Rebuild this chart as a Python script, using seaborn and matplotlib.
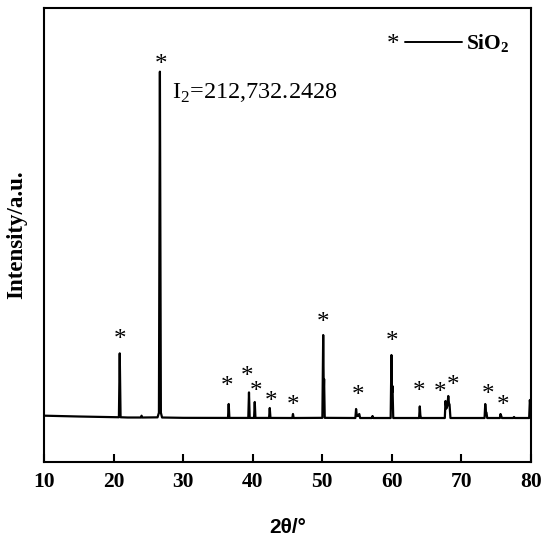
import matplotlib
matplotlib.use("Agg")
import matplotlib.pyplot as plt
import seaborn as sns

# XRD trace vertices (2theta in degrees, counts)
two_theta = [
    10.0, 15.0, 20.74, 20.86, 20.98, 22.0,
    23.9, 24.0, 24.1,
    26.3, 26.50, 26.64, 26.78, 26.95, 30.0,
    36.44, 36.54, 36.64,
    39.36, 39.46, 39.56,
    40.19, 40.29, 40.39,
    42.35, 42.45, 42.55,
    45.69, 45.79, 45.89,
    50.02, 50.14, 50.22, 50.27, 50.36,
    54.77, 54.87, 54.98, 55.10, 55.33, 55.45,
    57.14, 57.24, 57.34,
    59.85, 59.96, 60.04, 60.11, 60.22,
    63.94, 64.04, 64.12, 64.20,
    67.64, 67.74, 67.86, 68.00, 68.14, 68.24, 68.32, 68.45,
    73.36, 73.46, 73.56, 73.64, 73.74,
    75.56, 75.66, 75.76, 75.86,
    77.5, 77.6, 77.7,
    79.78, 79.88, 80.0,
]
counts = [
    5200, 4700, 4250, 42800, 4250, 4100,
    4100, 5200, 4100,
    4200, 7000, 212732, 7000, 4100, 3900,
    3850, 12250, 3850,
    3850, 19240, 3850,
    3850, 13450, 3850,
    3850, 9830, 3850,
    3800, 6210, 3800,
    3900, 53850, 20000, 27300, 3900,
    3800, 9230, 5200, 5000, 6210, 3800,
    3800, 5000, 3800,
    3800, 41790, 19000, 23100, 3800,
    3800, 10800, 5500, 3800,
    3800, 14050, 9500, 11000, 17070, 12500, 12000, 3800,
    3800, 12240, 7500, 7000, 3800,
    3800, 6210, 5000, 3800,
    3800, 4400, 3800,
    3800, 14650, 9000,
]

# SiO2 peak markers (centre of each asterisk)
star_2theta = [20.89, 26.75, 36.25, 39.13, 40.47, 42.62, 45.83, 50.15,
               55.19, 59.99, 63.96, 67.0, 68.85, 73.89, 76.05]
star_counts = [54300, 220040, 25720, 32170, 23120, 16670, 14680, 64570,
               20290, 53290, 23120, 22100, 26740, 21130, 14260]

peak_label = "I$_2$=212,732.2428"
x_ticks = [10, 20, 30, 40, 50, 60, 70, 80]

sns.set_style("ticks")
plt.rcParams["font.family"] = ["Liberation Serif", "DejaVu Serif"]
plt.rcParams["mathtext.fontset"] = "custom"
plt.rcParams["mathtext.rm"] = "Liberation Serif"
plt.rcParams["mathtext.bf"] = "Liberation Serif:bold"
plt.rcParams["text.color"] = "black"
plt.rcParams["axes.labelcolor"] = "black"
plt.rcParams["xtick.color"] = "black"
plt.rcParams["ytick.color"] = "black"

fig = plt.figure(figsize=(5.5, 5.42), dpi=100)
ax = fig.add_axes([0.0805, 0.1482, 0.8844, 0.8371])

sns.lineplot(x=two_theta, y=counts, color="black", linewidth=1.6,
             sort=False, estimator=None, ax=ax)

# asterisks above the quartz reflections
for x, y in zip(star_2theta, star_counts):
    ax.annotate("*", (x, y), xytext=(0, -8.5), textcoords="offset points",
                ha="center", va="baseline", fontsize=18)

ax.text(28.38, 196270, peak_label, fontsize=17.5, va="baseline")

# hand-made legend: "*  ——  SiO2"
ax.annotate("*", (0.717, 0.932), xycoords="axes fraction", xytext=(0, -8.5),
            textcoords="offset points", ha="center", va="baseline", fontsize=18)
ax.plot([0.7415, 0.858], [0.924, 0.924], color="black", lw=1.4,
        transform=ax.transAxes)
ax.text(0.868, 0.909, r"SiO$_\mathbf{2}$", transform=ax.transAxes,
        fontsize=15.5, fontweight="bold", va="baseline")

ax.set_xlim(10, 80)
ax.set_ylim(-22545, 251170)
ax.set_xticks(x_ticks)
ax.set_yticks([])
ax.tick_params(axis="x", direction="in", length=5.8, width=1.5, pad=7.5,
               labelsize=15.5, top=False)
for lbl in ax.get_xticklabels():
    lbl.set_fontweight("bold")

for spine in ax.spines.values():
    spine.set_visible(True)
    spine.set_linewidth(1.5)
    spine.set_color("black")

ax.set_xlabel("2θ/°", fontsize=15, fontweight="bold",
              family=["Liberation Sans", "DejaVu Sans"], va="center")
ax.xaxis.set_label_coords(0.5, -0.146)
ax.set_ylabel("Intensity/a.u.", fontsize=16.5, fontweight="bold", va="center")
ax.yaxis.set_label_coords(-0.0567, 0.5)

fig.savefig("out.png", dpi=100)
